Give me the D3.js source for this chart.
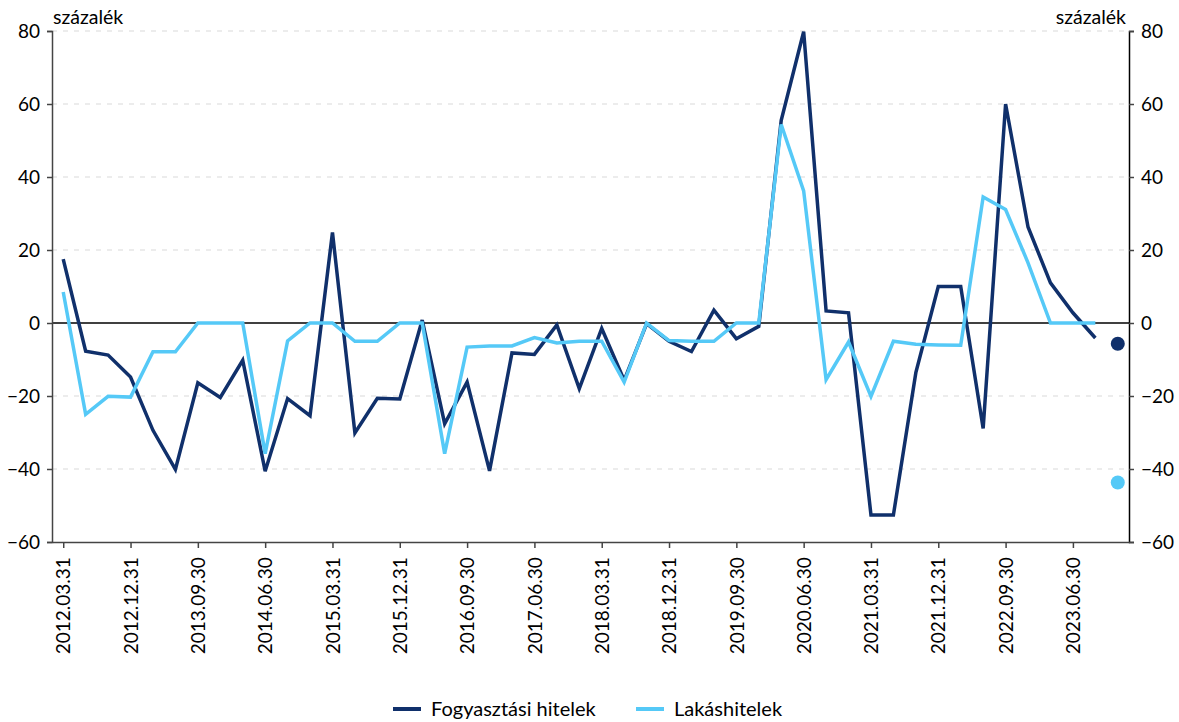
<!DOCTYPE html>
<html>
<head>
<meta charset="utf-8">
<script src="https://cdn.jsdelivr.net/npm/d3@7"></script>
<style>
  body { margin: 0; background: #fff; }
  text { font-family: Lato, "Open Sans", sans-serif; fill: #000; }
</style>
</head>
<body>
<script>
// quarterly dates 2012Q1 .. 2023Q4
const quarters = [];
for (let y = 2012; y <= 2023; y++) {
    ["03.31", "06.30", "09.30", "12.31"].forEach(q => quarters.push(y + "." + q));
}

const consumer = [17.5, -7.7, -8.8, -14.8, -29.4, -40.1, -16.4, -20.4, -10.2, -40.6,
    -20.7, -25.4, 24.8, -30.1, -20.6, -20.8, 0.8, -27.6, -16.2, -40.5,
    -8.2, -8.6, -0.5, -18, -1.5, -15.7, -0.2, -5, -7.8, 3.5,
    -4.3, -0.9, 55.5, 79.8, 3.3, 2.8, -52.6, -52.6, -13.6, 10,
    10, -28.9, 60, 26.3, 11, 2.8, -4.1];
const housing = [8.5, -25, -20.1, -20.3, -7.9, -7.9, 0, 0, 0, -35.8,
    -4.9, 0, 0, -5, -5, 0, 0, -35.8, -6.6, -6.3,
    -6.3, -4, -5.5, -5, -5, -16.2, 0, -4.8, -5, -5,
    0, 0, 54.4, 36.2, -15.5, -5.2, -20.1, -5, -5.8, -6,
    -6.1, 34.5, 31.1, 16.5, 0, 0, 0];
// last quarter shown only as dots
const lastConsumer = -5.7;
const lastHousing = -43.7;

const yTicks = [80, 60, 40, 20, 0, -20, -40, -60];
const seriesNames = ["Fogyasztási hitelek", "Lakáshitelek"];
const colors = ["#10306b", "#55c9f7"];

const W = 1179, H = 722;
const margin = {left: 52, right: 50, top: 31, bottom: 180};
const svg = d3.select("body").append("svg").attr("width", W).attr("height", H);

const x = d3.scalePoint().domain(quarters).range([margin.left, W - margin.right]).padding(0.5);
const y = d3.scaleLinear().domain([-60, 80]).range([H - margin.bottom, margin.top]);

// grid
svg.append("g").selectAll("line")
    .data(yTicks.filter(d => d !== 0 && d !== -60))
    .join("line")
    .attr("x1", margin.left).attr("x2", W - margin.right)
    .attr("y1", d => y(d)).attr("y2", d => y(d))
    .attr("stroke", "#d9d9d9").attr("stroke-dasharray", "5,6");

// zero line
svg.append("line")
    .attr("x1", margin.left).attr("x2", W - margin.right)
    .attr("y1", y(0)).attr("y2", y(0))
    .attr("stroke", "#000").attr("stroke-width", 1.3);

// axes
const yLeft = svg.append("g").attr("transform", `translate(${margin.left},0)`)
    .call(d3.axisLeft(y).tickValues(yTicks).tickSize(5).tickPadding(7).tickFormat(d3.format("d")));
const yRight = svg.append("g").attr("transform", `translate(${W - margin.right},0)`)
    .call(d3.axisRight(y).tickValues(yTicks).tickSize(5).tickPadding(7).tickFormat(d3.format("d")));
const xAxis = svg.append("g").attr("transform", `translate(0,${y(-60)})`)
    .call(d3.axisBottom(x).tickValues(quarters.filter((d, i) => i % 3 === 0)).tickSize(6).tickSizeOuter(0));
xAxis.selectAll("text")
    .attr("transform", "rotate(-90)")
    .attr("text-anchor", "end")
    .attr("dx", "-0.8em").attr("dy", "0.35em")
    .attr("x", 0).attr("y", 0);

[yLeft, yRight, xAxis].forEach(g => {
    g.selectAll("text").style("font-size", "19px").style("font-family", "Lato, 'Open Sans', sans-serif");
    g.select(".domain").attr("stroke", "#444").attr("stroke-width", 1.5);
    g.selectAll(".tick line").attr("stroke", "#444").attr("stroke-width", 1.5);
});
yRight.select(".domain").attr("stroke", "#000");

// unit labels
svg.append("text").attr("x", margin.left + 1).attr("y", 24).style("font-size", "19.5px").text("százalék");
svg.append("text").attr("x", W - margin.right - 3).attr("y", 24).attr("text-anchor", "end")
    .style("font-size", "19.5px").text("százalék");

// lines
const line = d3.line().x((d, i) => x(quarters[i])).y(d => y(d));
[consumer, housing].forEach((s, k) => {
    svg.append("path").datum(s)
        .attr("fill", "none")
        .attr("stroke", colors[k])
        .attr("stroke-width", 3.5)
        .attr("stroke-linejoin", "miter")
        .attr("d", line);
});

// last-quarter dots
const lastQ = quarters[quarters.length - 1];
[lastConsumer, lastHousing].forEach((v, k) => {
    svg.append("circle").attr("cx", x(lastQ)).attr("cy", y(v)).attr("r", 7).attr("fill", colors[k]);
});

// legend
const legendX = [393, 636];
seriesNames.forEach((name, k) => {
    const g = svg.append("g").attr("transform", `translate(${legendX[k]},709)`);
    g.append("line").attr("x1", 0).attr("x2", 28).attr("y1", 0).attr("y2", 0)
        .attr("stroke", colors[k]).attr("stroke-width", 4);
    g.append("text").attr("x", 38).attr("y", 0).attr("dy", "0.35em").style("font-size", "20px").text(name);
});
</script>
</body>
</html>
